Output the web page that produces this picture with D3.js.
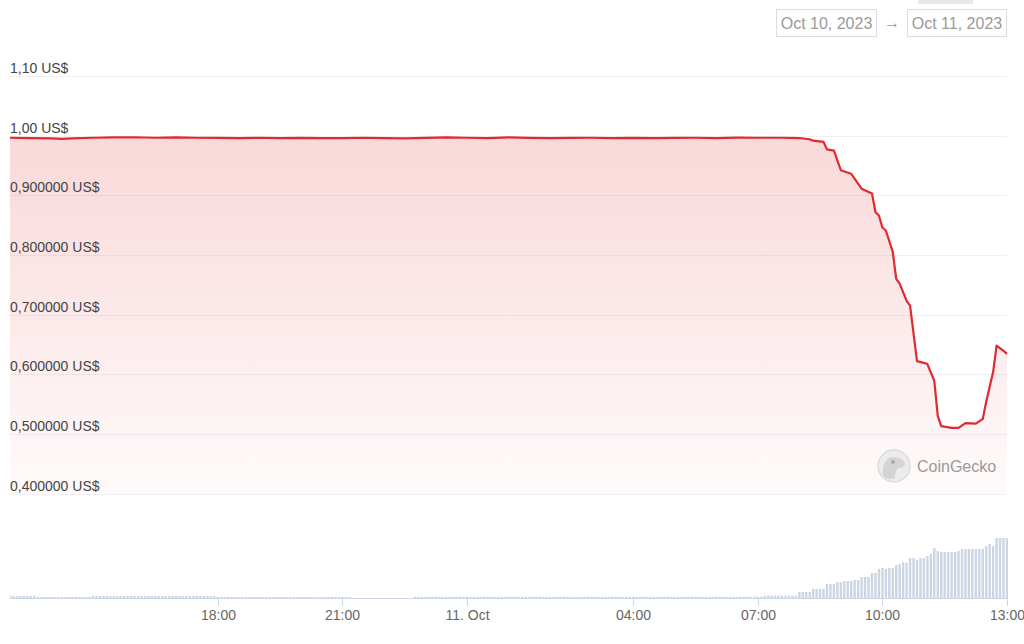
<!DOCTYPE html>
<html><head><meta charset="utf-8">
<script src="https://cdn.jsdelivr.net/npm/d3@7"></script>
<style>body{margin:0;background:#fff;} svg{display:block;font-family:"Liberation Sans",Arial,sans-serif;}</style>
</head><body><svg id="c" width="1024" height="644"></svg>
<script>
// ---- data ----
const priceTimes = [
 "2023-10-10T13:00","2023-10-10T13:30","2023-10-10T14:00","2023-10-10T14:15","2023-10-10T14:30","2023-10-10T15:00","2023-10-10T15:30",
 "2023-10-10T16:00","2023-10-10T16:30","2023-10-10T17:00","2023-10-10T17:30","2023-10-10T18:00","2023-10-10T18:30",
 "2023-10-10T19:00","2023-10-10T19:30","2023-10-10T20:00","2023-10-10T20:30","2023-10-10T21:00","2023-10-10T21:30",
 "2023-10-10T22:00","2023-10-10T22:30","2023-10-10T23:00","2023-10-10T23:30","2023-10-11T00:00","2023-10-11T00:30",
 "2023-10-11T01:00","2023-10-11T01:30","2023-10-11T02:00","2023-10-11T02:30","2023-10-11T03:00","2023-10-11T03:30",
 "2023-10-11T04:00","2023-10-11T04:30","2023-10-11T05:00","2023-10-11T05:30","2023-10-11T06:00","2023-10-11T06:30",
 "2023-10-11T07:00","2023-10-11T07:35","2023-10-11T08:00","2023-10-11T08:15","2023-10-11T08:20","2023-10-11T08:35",
 "2023-10-11T08:40","2023-10-11T08:50","2023-10-11T09:00","2023-10-11T09:15","2023-10-11T09:30","2023-10-11T09:45",
 "2023-10-11T09:50","2023-10-11T09:55","2023-10-11T10:00","2023-10-11T10:05","2023-10-11T10:15","2023-10-11T10:20",
 "2023-10-11T10:25","2023-10-11T10:35","2023-10-11T10:40","2023-10-11T10:50","2023-10-11T11:00","2023-10-11T11:05",
 "2023-10-11T11:15","2023-10-11T11:20","2023-10-11T11:25","2023-10-11T11:40","2023-10-11T11:50","2023-10-11T12:00",
 "2023-10-11T12:15","2023-10-11T12:25","2023-10-11T12:30","2023-10-11T12:40","2023-10-11T12:45","2023-10-11T12:55",
 "2023-10-11T13:00"
];
const priceValues = [
 0.9965,0.996,0.9955,0.9947,0.9953,0.9965,0.997,
 0.9973,0.9965,0.997,0.9965,0.9963,0.996,
 0.9965,0.996,0.9963,0.9957,0.996,0.9965,
 0.996,0.9955,0.9963,0.997,0.9965,0.996,
 0.997,0.9963,0.9957,0.9963,0.9965,0.996,
 0.9963,0.9957,0.9963,0.9965,0.996,0.9967,
 0.9965,0.9965,0.996,0.994,0.9916,0.9894,
 0.977,0.975,0.942,0.936,0.911,0.903,
 0.872,0.866,0.846,0.841,0.805,0.760,
 0.752,0.723,0.715,0.622,0.619,0.617,
 0.589,0.530,0.513,0.510,0.510,0.518,
 0.517,0.525,0.554,0.604,0.648,0.639,
 0.634
];
const volumeStart = "2023-10-10T13:00";
const volumeStepMinutes = 5;
const volumeValues = [
 2,2,2,2,2,2,2,2,1,1,1,1,
 1,1,1,1,1,1,1,1,1,1,1,1,
 2,2,2,2,2,2,2,2,2,2,2,2,
 2,2,2,2,2,2,2,2,2,2,2,2,
 2,2,2,2,2,2,2,2,2,2,2,2,
 1,1,1,1,1,1,1,1,1,1,1,1,
 1,1,1,1,1,1,1,1,1,1,1,1,
 1,1,1,1,1,1,1,1,1,1,1,1,
 1,1,1,0,0,0,0,0,0,0,0,0,
 0,0,0,0,0,0,0,0,0,1.3,1.3,1.3,
 1.3,1.3,1.3,1.3,1.3,1.3,1.3,1.3,1.3,1.3,1.3,1.3,
 1.3,1.3,1.3,1.3,1.3,1.3,1.3,1.3,1.3,1.3,1.3,1.3,
 1.3,1.3,1.3,1.3,1.3,1.3,1.3,1.3,1.3,1.3,1.3,1.3,
 1.3,1.3,1.3,1.3,1.3,1.3,1.3,1.3,1.3,1.3,1.3,1.3,
 1.3,1.3,1.3,1.3,1.3,1.3,1.3,1.3,1.3,1.3,1.3,1.3,
 1.3,1.3,1.3,1.3,1.3,1.3,1.3,1.3,1.3,1.3,1.3,1.3,
 1.3,1.3,1.3,1.3,1.3,1.3,1.3,1.3,1.3,1.3,1.3,1.3,
 1.3,1.3,1.3,1.3,1.3,1.3,1.3,1.3,1.3,1.3,1.3,1.3,
 1.3,1.3,2.3,2.3,2.3,2.3,2.3,2.3,2.3,2.3,2.3,2.3,
 6,6,6,6,9,9,9,9,14,14,14,16,
 16,17,17,17,18,18,21,21,21,25,25,29,
 30,29,30,30,33,34,36,35,40,40,38,40,
 40,42,44,50,47,46,46,46,46,46,47,49,
 49,49,49,49,49,49,52,54,52,60,60,60,
 60
];
const yTickValues = [1.1,1.0,0.9,0.8,0.7,0.6,0.5,0.4];
const yTickLabels = ["1,10 US$","1,00 US$","0,900000 US$","0,800000 US$","0,700000 US$","0,600000 US$","0,500000 US$","0,400000 US$"];
const xTickTimes = ["2023-10-10T18:00","2023-10-10T21:00","2023-10-11T00:00","2023-10-11T04:00","2023-10-11T07:00","2023-10-11T10:00","2023-10-11T13:00"];
const xTickLabels = ["18:00","21:00","11. Oct","04:00","07:00","10:00","13:00"];
const dateRange = ["Oct 10, 2023","Oct 11, 2023"];
const watermark = "CoinGecko";

// ---- chart ----
const parse = d3.timeParse("%Y-%m-%dT%H:%M");
const svg = d3.select("#c");
const lineColor = "#e02a2f";
const x = d3.scaleTime().domain([parse("2023-10-10T13:00"), parse("2023-10-11T13:00")]).range([10, 1007]);
const y = d3.scaleLinear().domain([0.4, 1.1]).range([493.5, 76]);
const vy = d3.scaleLinear().domain([0, 61]).range([598, 537]);

const defs = svg.append("defs");
const grad = defs.append("linearGradient").attr("id","g")
  .attr("gradientUnits","userSpaceOnUse").attr("x1",0).attr("y1",76).attr("x2",0).attr("y2",494);
grad.append("stop").attr("offset",0).attr("stop-color",lineColor).attr("stop-opacity",0.21);
grad.append("stop").attr("offset",1).attr("stop-color",lineColor).attr("stop-opacity",0.02);
defs.append("clipPath").attr("id","clip").append("rect").attr("x",10).attr("y",60).attr("width",998).attr("height",560);

// grid
svg.append("g").selectAll("line").data(yTickValues).join("line")
  .attr("x1",10).attr("x2",1007).attr("y1",d=>Math.round(y(d))+0.5).attr("y2",d=>Math.round(y(d))+0.5)
  .attr("stroke","#eef0f4").attr("stroke-width",1);

// area + line
const pts = priceTimes.map((t,i)=>({t:parse(t), v:priceValues[i]}));
const area = d3.area().x(d=>x(d.t)).y0(y(0.4)).y1(d=>y(d.v));
const line = d3.line().x(d=>x(d.t)).y(d=>y(d.v));
const pg = svg.append("g").attr("clip-path","url(#clip)");
pg.append("path").datum(pts).attr("d",area).attr("fill","url(#g)");

// y labels
svg.append("g").selectAll("text").data(yTickValues).join("text")
  .attr("x",10).attr("y",d=>Math.round(y(d))-3).attr("font-size",14).attr("fill","#444")
  .text((d,i)=>yTickLabels[i]);

// watermark
const wm = svg.append("g").attr("transform","translate(894,466)");
wm.append("circle").attr("r",16).attr("fill","#ececec").attr("stroke","#dcdcdc").attr("stroke-width",1.5);
wm.append("path").attr("d","M-11,9 C-12,-2 -8,-9 0,-9 C6,-9 10,-6 11,-2 C11,1 8,2 4,2 C2,4 1,7 1,12 C-4,14 -9,13 -11,9 Z").attr("fill","#d4d4d4");
wm.append("circle").attr("cx",-1).attr("cy",-4).attr("r",2).attr("fill","#aaa");
svg.append("text").attr("x",917).attr("y",472).attr("font-size",16).attr("fill","#9a9a9a").text(watermark);

pg.append("path").datum(pts).attr("d",line).attr("fill","none").attr("stroke",lineColor).attr("stroke-width",2.2).attr("stroke-linejoin","round");

// volume bars
const t0 = parse(volumeStart);
const vols = volumeValues.map((v,i)=>({t:d3.timeMinute.offset(t0, i*volumeStepMinutes), v}));
pg.append("g").selectAll("rect").data(vols.filter(d=>d.v>0)).join("rect")
  .attr("x",d=>x(d.t)-1.2).attr("width",2.4)
  .attr("y",d=>vy(d.v)).attr("height",d=>vy(0)-vy(d.v))
  .attr("fill","#ccd5e3");

// x axis
svg.append("line").attr("x1",10).attr("x2",1008).attr("y1",598.5).attr("y2",598.5).attr("stroke","#ccd6eb");
const xt = svg.append("g");
xTickTimes.forEach((t,i)=>{
  const px = Math.round(x(parse(t)))+0.5;
  xt.append("line").attr("x1",px).attr("x2",px).attr("y1",598).attr("y2",606).attr("stroke","#ccd6eb");
  xt.append("text").attr("x",px).attr("y",620).attr("text-anchor","middle").attr("font-size",14).attr("fill","#666").text(xTickLabels[i]);
});

// date range controls
svg.append("rect").attr("x",918).attr("y",0).attr("width",55).attr("height",4).attr("fill","#e8e8e8");
const boxes = [{x:776.5,w:100},{x:907.5,w:99}];
boxes.forEach((b,i)=>{
  svg.append("rect").attr("x",b.x).attr("y",9.5).attr("width",b.w).attr("height",27).attr("fill","#fff").attr("stroke","#dcdcdc");
  svg.append("text").attr("x",b.x+b.w/2).attr("y",29).attr("text-anchor","middle").attr("font-size",16).attr("fill","#9a9a9a").text(dateRange[i]);
});
svg.append("text").attr("x",892).attr("y",28).attr("text-anchor","middle").attr("font-size",16).attr("fill","#9a9a9a").text("→");
</script></body></html>
